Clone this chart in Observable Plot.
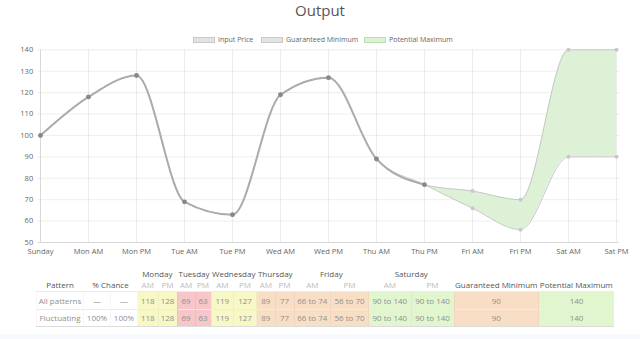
<!DOCTYPE html>
<html>
<head>
<meta charset="utf-8">
<script src="https://cdn.jsdelivr.net/npm/d3@7"></script>
<script src="https://cdn.jsdelivr.net/npm/@observablehq/plot@0.6"></script>
<style>
  html, body { margin: 0; padding: 0; background: #fff; width: 640px; height: 339px; overflow: hidden; font-family: "Open Sans", "DejaVu Sans", sans-serif; }
  #title { position: absolute; left: 0; top: 0; width: 640px; height: 20px; line-height: 20px; text-align: center; font-size: 15px; color: #555; }
  #legend { position: absolute; left: 0; top: 33px; width: 640px; height: 14px; font-size: 7px; color: #666; }
  .lg { position: absolute; top: 0; height: 14px; line-height: 14px; white-space: nowrap; }
  .lg span.box { display: inline-block; width: 22px; height: 6px; vertical-align: middle; margin-right: 3px; box-sizing: border-box; }
  #chart { position: absolute; left: 0; top: 40px; }
  #tbl { position: absolute; left: 36px; top: 265px; border-collapse: collapse; table-layout: fixed; width: 577.5px; font-size: 8px; color: #8f8f8f; }
  #tbl th, #tbl td { padding: 0; text-align: center; white-space: nowrap; overflow: visible; }
  #tbl tr.h1 th { height: 14px; line-height: 11px; vertical-align: bottom; color: #555; font-weight: normal; }
  #tbl tr.h2 th { height: 12px; line-height: 12px; color: #555; font-weight: normal; }
  #tbl tr.h2 th.ap { color: #bbb; }
  #tbl tbody td { height: 16.5px; border-top: 1px solid #ececec; border-left: 1px solid rgba(0,0,0,0.035); }
  #tbl tbody tr:last-child td { border-bottom: 1px solid #dcdcdc; }
  #band { position: absolute; left: 0; top: 334px; width: 640px; height: 5px; background: #f8f9fc; }
</style>
</head>
<body>
<div id="title">Output</div>
<div id="legend"></div>
<div id="chart"></div>
<table id="tbl"></table>
<div id="band"></div>
<script>
// ---- data ----
const labels = ["Sunday", "Mon AM", "Mon PM", "Tue AM", "Tue PM", "Wed AM", "Wed PM", "Thu AM", "Thu PM", "Fri AM", "Fri PM", "Sat AM", "Sat PM"];
const inputPrice = [100, 118, 128, 69, 63, 119, 127, 89, 77, null, null, null, null];
const guaranteedMin = [100, 118, 128, 69, 63, 119, 127, 89, 77, 66, 56, 90, 90];
const potentialMax = [100, 118, 128, 69, 63, 119, 127, 89, 77, 74, 70, 140, 140];
const yTicks = [50, 60, 70, 80, 90, 100, 110, 120, 130, 140];
const seriesNames = ["Input Price", "Guaranteed Minimum", "Potential Maximum"];

const tableDays = ["Monday", "Tuesday", "Wednesday", "Thursday", "Friday", "Saturday"];
const halfDays = ["AM", "PM"];
const patternNames = ["All patterns", "Fluctuating"];
const patternChance = [["—", "—"], ["100%", "100%"]];
const overallMin = 90;
const overallMax = 140;

// ---- styles ----
const tone = { yellow: "#f8f7c6", red: "#f6c6c9", peach: "#f9dec6", green: "#e1f6cf" };
const cellTones = ["yellow", "yellow", "red", "red", "yellow", "yellow", "peach", "peach", "peach", "peach", "green", "green"];
const colWidths = [47, 27, 27, 20.5, 19, 18, 16, 22.5, 23, 18.5, 19, 36.5, 38, 42.5, 43, 84.5, 75.5];

const FONT = '"Open Sans", "DejaVu Sans", sans-serif';

// ---- legend ----
const legendPos = [193, 261, 364];
const legendBox = [
  { bg: "#e3e3e3", bd: "#c8c8c8" },
  { bg: "#e3e3e3", bd: "#c8c8c8" },
  { bg: "#dcf1d6", bd: "#b9dfb0" }
];
const legend = document.getElementById("legend");
seriesNames.forEach((n, i) => {
  const d = document.createElement("div");
  d.className = "lg";
  d.style.left = legendPos[i] + "px";
  d.innerHTML = `<span class="box" style="background:${legendBox[i].bg};border:1px solid ${legendBox[i].bd}"></span>${n}`;
  legend.appendChild(d);
});

// ---- chart ----
const rows = labels.map((l, i) => ({ label: l, input: inputPrice[i], min: guaranteedMin[i], max: potentialMax[i] }));
const known = rows.filter(d => d.input != null);

const chart = Plot.plot({
  width: 640,
  height: 225,
  marginTop: 9.3,
  marginBottom: 23,
  marginLeft: 37.7,
  marginRight: 21,
  style: { fontFamily: FONT, fontSize: "7.5px", color: "#666", background: "transparent" },
  x: { type: "point", domain: labels, padding: 0, label: null },
  y: { domain: [50, 140], label: null },
  marks: [
    Plot.gridX(labels, { stroke: "#000", strokeOpacity: 0.07 }),
    Plot.gridY(yTicks, { stroke: "#000", strokeOpacity: 0.07 }),
    Plot.ruleX([labels[0]], { stroke: "#d8d8d8" }),
    Plot.ruleY([50], { stroke: "#d8d8d8" }),
    Plot.axisX({ tickSize: 0, tickPadding: 6.5, fill: "#666" }),
    Plot.axisY(yTicks, { tickSize: 0, tickPadding: 5, fill: "#666" }),
    Plot.areaY(rows, { x: "label", y1: "min", y2: "max", curve: "monotone-x", fill: "#dcf1d6" }),
    Plot.line(rows, { x: "label", y: "min", curve: "monotone-x", stroke: "#c8c8c8", strokeWidth: 1 }),
    Plot.line(rows, { x: "label", y: "max", curve: "monotone-x", stroke: "#c8c8c8", strokeWidth: 1 }),
    Plot.dot(rows, { x: "label", y: "min", r: 2, fill: "#c8c8c8", stroke: null }),
    Plot.dot(rows, { x: "label", y: "max", r: 2, fill: "#c8c8c8", stroke: null }),
    Plot.line(known, { x: "label", y: "input", curve: "monotone-x", stroke: "#acacac", strokeWidth: 2 }),
    Plot.dot(known, { x: "label", y: "input", r: 2.4, fill: "#888", stroke: null })
  ]
});
document.getElementById("chart").appendChild(chart);

// ---- table ----
const tbl = document.getElementById("tbl");
let html = "<colgroup>" + colWidths.map(w => `<col style="width:${w}px">`).join("") + "</colgroup>";
html += "<thead><tr class='h1'><th></th><th colspan='2'></th>" +
  tableDays.map(d => `<th colspan="2">${d}</th>`).join("") + "<th></th><th></th></tr>";
html += "<tr class='h2'><th>Pattern</th><th colspan='2'>% Chance</th>" +
  tableDays.map(() => halfDays.map(h => `<th class="ap">${h}</th>`).join("")).join("") +
  "<th>Guaranteed Minimum</th><th>Potential Maximum</th></tr></thead><tbody>";
patternNames.forEach((p, r) => {
  html += `<tr><td>${p}</td><td>${patternChance[r][0]}</td><td>${patternChance[r][1]}</td>`;
  for (let i = 1; i < labels.length; i++) {
    const lo = guaranteedMin[i], hi = potentialMax[i];
    const txt = lo === hi ? `${lo}` : `${lo} to ${hi}`;
    html += `<td style="background:${tone[cellTones[i - 1]]}">${txt}</td>`;
  }
  html += `<td style="background:${tone.peach}">${overallMin}</td><td style="background:${tone.green}">${overallMax}</td></tr>`;
});
html += "</tbody>";
tbl.innerHTML = html;
</script>
</body>
</html>
